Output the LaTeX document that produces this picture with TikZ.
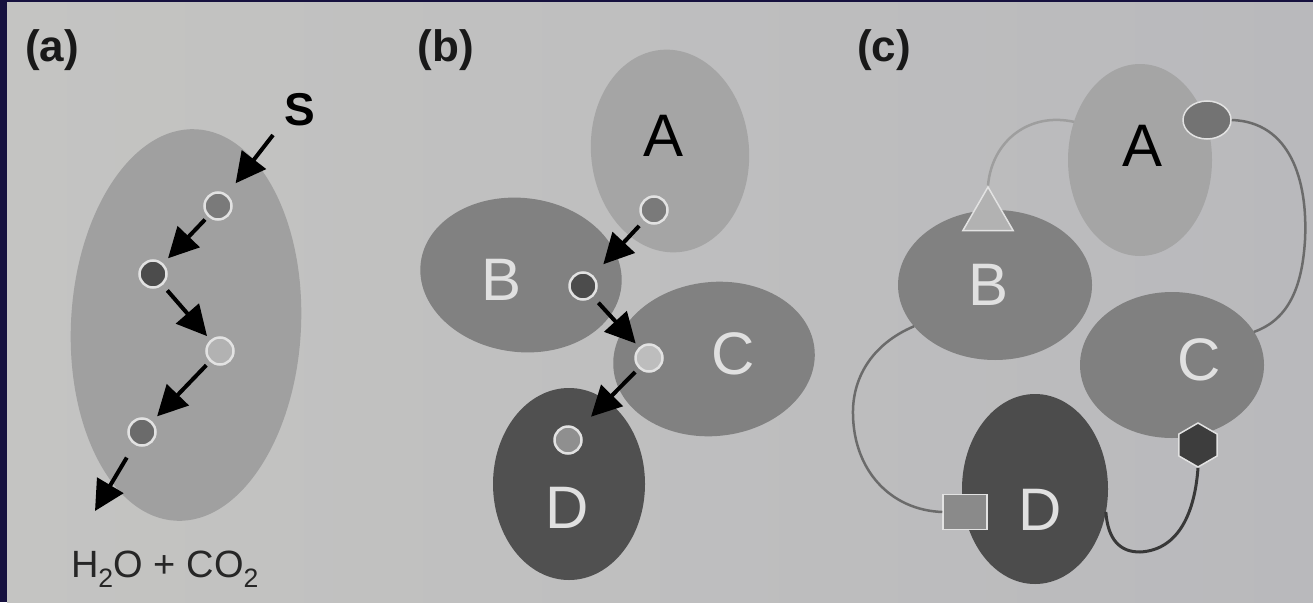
\documentclass[tikz,border=0pt]{standalone}
\usepackage{fontspec}
\setmainfont{Liberation Sans}
\usetikzlibrary{shapes.geometric,arrows.meta}
\definecolor{navy}{HTML}{16113F}
\definecolor{bgL}{HTML}{C4C4C2}
\definecolor{bgR}{HTML}{B9B9BC}
\definecolor{ring}{HTML}{E2E2E2}
\definecolor{lightE}{HTML}{A5A5A5}
\definecolor{midE}{HTML}{818181}
\definecolor{darkE}{HTML}{505050}
\definecolor{aE}{HTML}{A0A0A0}
\definecolor{letc}{HTML}{E0E0E0}
\begin{document}
\begin{tikzpicture}[x=1pt,y=-1pt,
  blob/.style={ellipse,draw=none,inner sep=0pt,outer sep=0pt},
  dot/.style={circle,minimum size=27pt,inner sep=0pt,draw=ring,line width=2.5pt},
  arr/.style={-{Triangle[length=30pt,width=30pt]},line width=4pt,black},
  lbl/.style={font=\bfseries\fontsize{44}{44}\selectfont,text=black!90},
  big/.style={font=\fontsize{60}{60}\selectfont},
  wlet/.style={big,text=letc},
  link/.style={line width=2.5pt},
  tagshape/.style={draw=ring,line width=1.5pt,inner sep=0pt}
]
\useasboundingbox (0,0) rectangle (1313,602);
\fill[navy] (0,0) rectangle (1313,602);
\shade[left color=bgL,right color=bgR] (7,3) rectangle (1313,602);

% ---------- (a)
\node[lbl] (la) at (52,50) {(a)};
\node[font=\bfseries\fontsize{46}{46}\selectfont] (S) at (300,110) {S};
\node[blob,fill=aE,minimum width=230,minimum height=392,rotate=-3] (ea) at (186,325) {};
\node[dot,fill=black!52] (d1) at (218,206) {};
\node[dot,fill=black!70] (d2) at (153,274) {};
\node[dot,fill=black!30] (d3) at (220,351) {};
\node[dot,fill=black!58] (d4) at (142,432) {};
\coordinate (s0) at (273,135);
\coordinate (out) at (95,511);
\draw[arr,shorten >=14pt] (s0) -- (d1);
\draw[arr,shorten <=4pt,shorten >=7pt] (d1) -- (d2);
\draw[arr,shorten <=7pt,shorten >=5pt] (d2) -- (d3);
\draw[arr,shorten <=5pt,shorten >=7pt] (d3) -- (d4);
\draw[arr,shorten <=15pt] (d4) -- (out);
\node[font=\fontsize{38}{38}\selectfont,text=black!85] (prod) at (165,569) {H\textsubscript{2}O + CO\textsubscript{2}};

% ---------- (b)
\node[lbl] (lb) at (446,50) {(b)};
\node[blob,fill=lightE,minimum width=158,minimum height=203,rotate=5] (bA) at (670,151) {};
\node[blob,fill=midE,minimum width=202,minimum height=154,rotate=-7] (bB) at (521,275) {};
\node[blob,fill=midE,minimum width=202,minimum height=154,rotate=6] (bC) at (714,359) {};
\node[blob,fill=darkE,minimum width=152,minimum height=192] (bD) at (569,484) {};
\node[big,text=black] (tA) at (663,136) {A};
\node[wlet] (tB) at (502,280) {B};
\node[wlet] (tC) at (733,354) {C};
\node[wlet] (tD) at (567,508) {D};
\node[dot,fill=black!52] (pA) at (654,210) {};
\node[dot,fill=black!70] (pB) at (583,286) {};
\node[dot,fill=black!26] (pC) at (649,358) {};
\node[dot,fill=black!44] (pD) at (568,440) {};
\draw[arr,shorten <=7pt,shorten >=15pt] (pA) -- (pB);
\draw[arr,shorten <=8pt,shorten >=5pt] (pB) -- (pC);
\draw[arr,shorten <=5pt,shorten >=18pt] (pC) -- (pD);

% ---------- (c)
\node[lbl] (lc) at (884,50) {(c)};
\node[blob,fill=lightE,minimum width=144,minimum height=192] (cA) at (1140,160) {};
\node[blob,fill=midE,minimum width=194,minimum height=150] (cB) at (995,285) {};
\node[blob,fill=black!50,minimum width=184,minimum height=146] (cC) at (1172,365) {};
\node[blob,fill=black!70,minimum width=146,minimum height=190] (cD) at (1035,489) {};
\node[big,text=black] (uA) at (1142,146) {A};
\node[wlet] (uB) at (988,285) {B};
\node[wlet] (uC) at (1199,360) {C};
\node[wlet] (uD) at (1040,510) {D};
\node[tagshape,ellipse,fill=black!55,minimum width=48,minimum height=38,line width=1.5pt] (aov) at (1207,120) {};
\node[tagshape,regular polygon,regular polygon sides=3,fill=black!30,minimum size=58] (tri) at (988,216) {};
\node[tagshape,regular polygon,regular polygon sides=6,shape border rotate=30,fill=black!76,minimum size=44] (hex) at (1198,445) {};
\node[tagshape,rectangle,fill=black!46,minimum width=44,minimum height=35] (sq) at (965,512) {};
\draw[link,draw=black!38] (cA.150) .. controls (1030,112) and (992,140) .. (tri.corner 1);
\draw[link,draw=black!58] (aov.east) .. controls (1290,122) and (1308,180) .. (1305,240)
  .. controls (1302,290) and (1287,320) .. (cC.22);
\draw[link,draw=black!58] (cB.207) .. controls (870,345) and (852,380) .. (853,415)
  .. controls (854,470) and (890,510) .. (sq.west);
\draw[link,line width=3pt,draw=black!78] (hex.south) .. controls (1195,510) and (1180,550) .. (1140,552)
  .. controls (1120,552) and (1108,540) .. (cD.-18);
\end{tikzpicture}
\end{document}
